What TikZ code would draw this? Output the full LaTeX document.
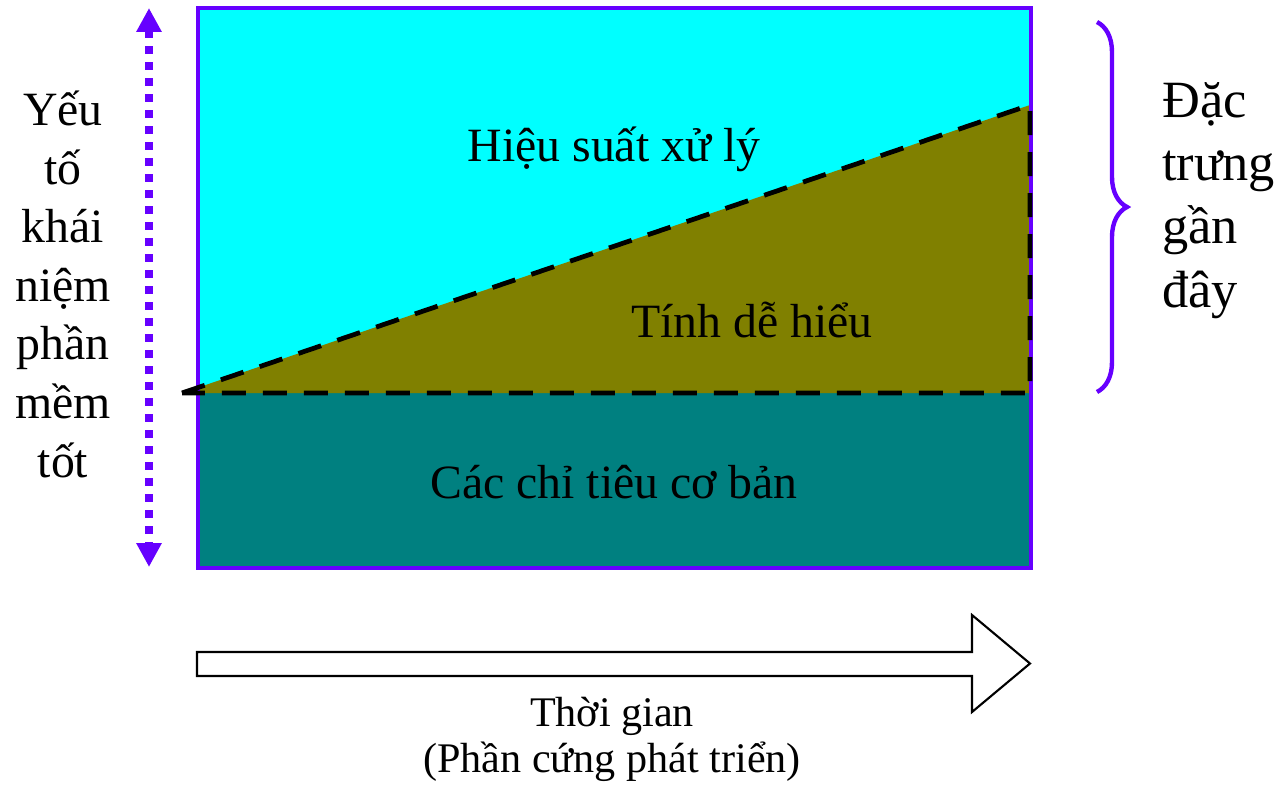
\documentclass[tikz,border=0pt]{standalone}
\usepackage{fontspec}
\setmainfont{Liberation Serif}
\definecolor{edge}{HTML}{6600FF}
\definecolor{aqua}{HTML}{00FFFF}
\definecolor{khaki}{HTML}{808000}
\definecolor{deepteal}{HTML}{008080}
\usetikzlibrary{arrows.meta, decorations.pathreplacing}
\tikzset{
  txt/.style={inner sep=0pt, font=\fontsize{27.2}{33}\selectfont},
  frame/.style={draw=edge, line width=2.6pt},
  cut/.style={line width=2.7pt, dash pattern=on 0.48cm off 0.34cm},
  scalearrow/.style={{Triangle[width=0.48cm,length=0.48cm]}-{Triangle[width=0.48cm,length=0.48cm]},
                     edge, line width=0.16cm, dash pattern=on 0.16cm off 0.16cm},
  bracket/.style={edge, line width=2.5pt, decorate, decoration={brace, amplitude=0.6cm}},
  timearrow/.style={draw=black, fill=white, line width=1.2pt},
}
\begin{document}
\begin{tikzpicture}[x=0.02cm,y=-0.02cm]
  \useasboundingbox (0,0) rectangle (1282,788);
  % the three layers
  \fill[aqua] (198,8) rectangle (1031,393);
  \fill[deepteal] (198,393) rectangle (1031,568);
  \fill[khaki] (182,393) -- (1030,105) -- (1030,393) -- cycle;
  \draw[frame] (198,8) rectangle (1031,568);
  \draw[cut] (182,393) -- (1030,105) -- (1030,393) -- cycle;
  \node[txt,anchor=base] (perf) at (614,161) {Hiệu suất xử lý};
  \node[txt,anchor=base] (easy) at (752,337) {Tính dễ hiểu};
  \node[txt,anchor=base] (basic) at (614,498) {Các chỉ tiêu cơ bản};
  % left side
  \coordinate (up) at (149,8);
  \coordinate (down) at (149,567);
  \draw[scalearrow] (up) -- (down);
  \node[txt,align=center,anchor=base,font=\fontsize{27.2}{33.3}\selectfont] (factor) at (63,477) {Yếu\\tố\\khái\\niệm\\phần\\mềm\\tốt};
  % right side
  \coordinate (bt) at (1097,22);
  \coordinate (bb) at (1097,392);
  \draw[bracket] (bt) -- (bb);
  \node[txt,align=left,anchor=base west,font=\fontsize{29.8}{35.9}\selectfont] (recent) at (1162,307) {Đặc\\trưng\\gần\\đây};
  % time
  \draw[timearrow] (197,652) -- (972,652) -- (972,615) -- (1030,663.5) -- (972,712) -- (972,676) -- (197,676) -- cycle;
  \node[txt,align=center,anchor=base,font=\fontsize{24}{26}\selectfont] (time) at (612,772) {Thời gian\\(Phần cứng phát triển)};
\end{tikzpicture}
\end{document}
